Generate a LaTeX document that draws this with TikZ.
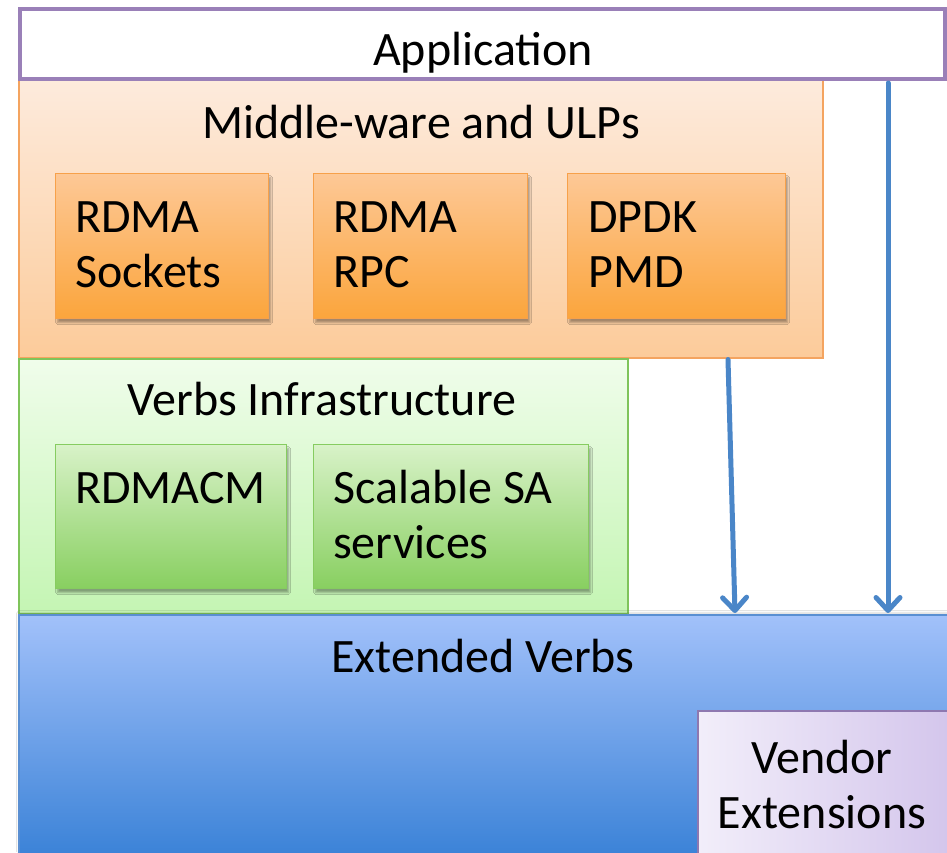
\documentclass[tikz,border=0pt]{standalone}
\usepackage{fontspec}
\setmainfont{Carlito}
\usetikzlibrary{arrows.meta,calc,shadows.blur}

\definecolor{appline}{HTML}{9A80B8}
\definecolor{mwtop}{HTML}{FDEBDD}
\definecolor{mwbot}{HTML}{FCCB9A}
\definecolor{mwline}{HTML}{F4A460}
\definecolor{ortop}{HTML}{FDC896}
\definecolor{orbot}{HTML}{FBA53C}
\definecolor{orline}{HTML}{F7A14A}
\definecolor{vitop}{HTML}{F0FDEB}
\definecolor{vibot}{HTML}{C4F5B3}
\definecolor{viline}{HTML}{7FC45B}
\definecolor{grtop}{HTML}{D8F2C8}
\definecolor{grbot}{HTML}{88CF60}
\definecolor{grline}{HTML}{86CC60}
\definecolor{evtop}{HTML}{A2C1FA}
\definecolor{evbot}{HTML}{3780D6}
\definecolor{evline}{HTML}{5A8FD2}
\definecolor{vdleft}{HTML}{F2EEFA}
\definecolor{vdright}{HTML}{D4C6EC}
\definecolor{vdline}{HTML}{8E78B0}
\definecolor{arrowblue}{HTML}{4A86C8}

\tikzset{
  layer/.style={rectangle, inner sep=0pt, anchor=north west},
  subbox/.style={layer, line width=1.2pt,
    blur shadow={shadow xshift=2pt, shadow yshift=-4pt, shadow blur steps=6, shadow opacity=35}},
  orangebox/.style={subbox, draw=orline, top color=ortop, bottom color=orbot},
  greenbox/.style={subbox, draw=grline, top color=grtop, bottom color=grbot},
  lbl/.style={font=\fontsize{48}{55}\selectfont, inner sep=0pt},
  boxlbl/.style={lbl, anchor=base west, align=left},
  flow/.style={draw=arrowblue, line width=5pt, line cap=round,
    -{Straight Barb[length=13pt, width=24pt, line width=5pt, round]}}
}

\begin{document}
\begin{tikzpicture}[x=1pt, y=-1pt]
\clip (0,0) rectangle (947,852);
\fill[white] (0,0) rectangle (947,852);

% middle-ware layer
\node[layer, draw=mwline, line width=1.5pt, top color=mwtop, bottom color=mwbot,
      minimum width=804pt, minimum height=279pt] (mw) at (18,78) {};
\node[lbl, anchor=base] (mwt) at (421,138) {Middle-ware and ULPs};

\node[orangebox, minimum width=213pt, minimum height=145pt] (sock) at (55,173) {};
\node[orangebox, minimum width=214pt, minimum height=145pt] (rpc) at (313,173) {};
\node[orangebox, minimum width=218pt, minimum height=145pt] (pmd) at (567,173) {};
% two-line labels: the base anchor sits on the last line
\node[boxlbl] (sockt) at (75,287) {RDMA\\Sockets};
\node[boxlbl] (rpct) at (333,287) {RDMA\\RPC};
\node[boxlbl] (pmdt) at (588,287) {DPDK\\PMD};

% verbs infrastructure layer
\node[layer, draw=viline, line width=2pt, top color=vitop, bottom color=vibot,
      minimum width=609pt, minimum height=255pt] (vi) at (18,358) {};
\node[lbl, anchor=base] (vit) at (322,415) {Verbs Infrastructure};

\node[greenbox, minimum width=231pt, minimum height=144pt] (cm) at (55,444) {};
\node[greenbox, minimum width=275pt, minimum height=144pt] (sa) at (313,444) {};
\node[boxlbl] (cmt) at (75,503) {RDMACM};
\node[boxlbl] (sat) at (333,558) {Scalable SA\\services};

% extended verbs layer
\node[layer, draw=evline, line width=1.5pt, top color=evtop, bottom color=evbot,
      minimum width=940pt, minimum height=250pt,
      blur shadow={shadow xshift=0pt, shadow yshift=2pt, shadow blur steps=3, shadow opacity=15}] (ev) at (18,614) {};
\node[lbl, anchor=base] (evt) at (483,672) {Extended Verbs};

\node[layer, draw=vdline, line width=1.5pt, left color=vdleft, right color=vdright,
      minimum width=250pt, minimum height=150pt] (vd) at (697,710) {};
\node[lbl, anchor=base, align=center] (vdt) at (822,828) {Vendor\\Extensions};

% application layer
\node[layer, draw=appline, line width=4pt, fill=white,
      minimum width=925pt, minimum height=70pt] (app) at (18,7) {};
\node[lbl, anchor=base] (appt) at (483,65) {Application};

% direct paths down to extended verbs
\draw[flow] ($(mw.south west)+(710,1)$) -- ($(ev.north west)+(717,-1)$);
\draw[flow] ($(app.south west)+(870,2)$) -- ($(ev.north west)+(870,-1)$);
\end{tikzpicture}
\end{document}
